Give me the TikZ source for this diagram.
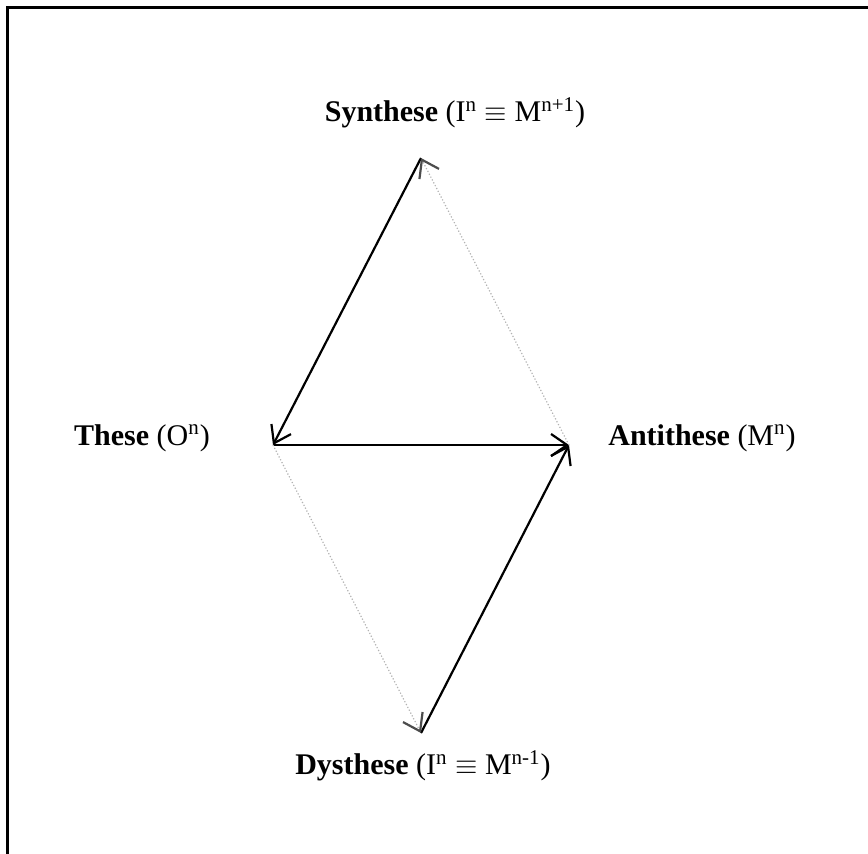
\documentclass[tikz,border=0pt]{standalone}
\usepackage{fontspec}
\setmainfont{Liberation Serif}
\usetikzlibrary{arrows.meta}

\begin{document}
\begin{tikzpicture}[x=0.5pt,y=-0.5pt,inner sep=0pt,
  font=\fontsize{15}{18}\selectfont,
  edge/.style={line width=1.1pt,-{Straight Barb[length=8pt,width=11pt]}},
  weak/.style={gray!60,line width=0.6pt,densely dotted,
    -{Straight Barb[length=8pt,width=11pt,color=black!70,line width=1.1pt]}}]
\useasboundingbox (0,0) rectangle (868,853);
\draw[line width=1.5pt] (7,7) rectangle (885,855);

\coordinate (syn) at (421,158);
\coordinate (these) at (273,445);
\coordinate (anti) at (569,445);
\coordinate (dys) at (421,733);

\node (synlab) at (455,113) {\textbf{Synthese} (I\textsuperscript{n} $\equiv$ M\textsuperscript{n+1})};
\node (theselab) at (142,438) {\textbf{These} (O\textsuperscript{n})};
\node (antilab) at (702,438) {\textbf{Antithese} (M\textsuperscript{n})};
\node (dyslab) at (423,766) {\textbf{Dysthese} (I\textsuperscript{n} $\equiv$ M\textsuperscript{n-1})};

\draw[edge] (syn) -- (these);
\draw[edge] (these) -- (anti);
\draw[edge] (dys) -- (anti);
\draw[weak] (anti) -- (syn);
\draw[weak] (these) -- (dys);
\end{tikzpicture}
\end{document}
